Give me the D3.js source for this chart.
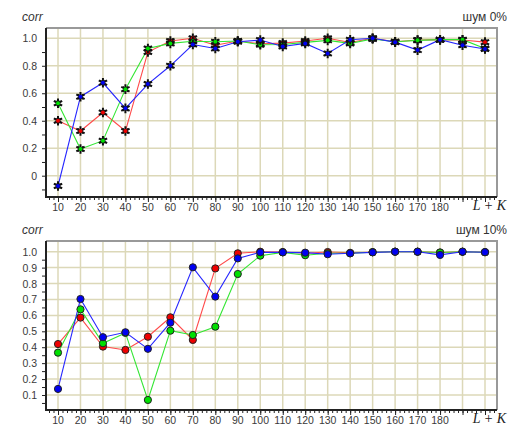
<!DOCTYPE html>
<html><head><meta charset="utf-8">
<script src="https://cdn.jsdelivr.net/npm/d3@7"></script>
<style>body{margin:0;background:#fff}svg{display:block}</style>
</head><body>
<script>
const xValues = [10,20,30,40,50,60,70,80,90,100,110,120,130,140,150,160,170,180,190,200];
const xTickLabels = [10,20,30,40,50,60,70,80,90,100,110,120,130,140,150,160,170,180];

const red0   = [0.40,0.325,0.46,0.325,0.90,0.98,1.00,0.95,0.98,0.96,0.965,0.98,1.00,0.97,1.00,0.975,0.988,0.99,0.988,0.972];
const green0 = [0.527,0.194,0.255,0.63,0.926,0.963,0.978,0.975,0.98,0.953,0.955,0.97,0.985,0.963,0.995,0.975,0.985,0.99,0.99,0.926];
const blue0  = [-0.075,0.575,0.676,0.49,0.667,0.80,0.955,0.926,0.975,0.987,0.94,0.963,0.89,0.99,1.00,0.972,0.914,0.99,0.95,0.922];

const red10   = [0.42,0.586,0.404,0.383,0.466,0.588,0.446,0.895,0.99,1.0,0.998,0.99,0.998,0.993,0.997,1.0,1.0,0.995,1.0,0.997];
const green10 = [0.366,0.638,0.425,0.49,0.069,0.504,0.477,0.529,0.86,0.975,0.996,0.978,0.99,0.99,0.997,1.0,1.0,0.995,1.0,0.997];
const blue10  = [0.138,0.703,0.463,0.494,0.39,0.554,0.902,0.718,0.958,0.996,0.996,0.994,0.984,0.99,0.996,1.0,1.0,0.98,1.0,0.997];

const yTicks0 = [0,0.2,0.4,0.6,0.8,1.0];
const yTickLabels0 = ["0","0.2","0.4","0.6","0.8","1.0"];
const yTicks10 = [0.1,0.2,0.3,0.4,0.5,0.6,0.7,0.8,0.9,1.0];
const yTickLabels10 = ["0.1","0.2","0.3","0.4","0.5","0.6","0.7","0.8","0.9","1.0"];

const titles = ["шум 0%","шум 10%"];

const W = 508, H = 427;
const svg = d3.select("body").append("svg").attr("width",W).attr("height",H);

const lineCol = {red:"#ff4a4a", green:"#33e633", blue:"#2626ff"};
const fillCol = {red:"#ee0000", green:"#00e000", blue:"#0000f0"};

function panel(cfg){
  const g = svg.append("g");
  const L = 46, R = 497, T = cfg.top, B = cfg.bottom;
  const x = d3.scaleLinear().domain([10,200]).range([58,485]);
  const y = d3.scaleLinear().domain(cfg.yDom).range(cfg.yRange);

  g.append("rect").attr("x",L).attr("y",T).attr("width",R-L).attr("height",B-T).attr("fill","#fff");
  g.selectAll(".vg").data(xValues).join("line")
    .attr("x1",d=>x(d)).attr("x2",d=>x(d)).attr("y1",T).attr("y2",B)
    .attr("stroke","#dcd8b8").attr("stroke-width",1.5);
  g.selectAll(".hg").data(cfg.yTicks).join("line")
    .attr("x1",L).attr("x2",R).attr("y1",d=>y(d)).attr("y2",d=>y(d))
    .attr("stroke","#dcd8b8").attr("stroke-width",1.5);
  g.append("path").attr("d",`M${L},${T}H${R}V${B}`).attr("fill","none").attr("stroke","#999").attr("stroke-width",2);

  const xAxis = d3.axisBottom(x).tickValues(d3.range(6,206,2)).tickSize(3).tickFormat("");
  const xa = g.append("g").attr("transform",`translate(0,${B})`).call(xAxis);
  xa.select(".domain").remove();
  xa.selectAll("line").attr("stroke","#222");
  g.append("g").attr("transform",`translate(0,${B})`).call(d3.axisBottom(x).tickValues(xValues).tickSize(5).tickFormat(""))
    .call(a=>a.select(".domain").remove()).selectAll("line").attr("stroke","#222");
  g.selectAll(".xl").data(xTickLabels).join("text")
    .attr("x",d=>x(d)).attr("y",B+13.5).attr("text-anchor","middle")
    .attr("font-family","Liberation Sans, Arial, sans-serif").attr("font-size",10.5).attr("fill","#3a3a3a").text(d=>d);

  const yMinor = d3.range(cfg.minorStart, cfg.yDom[1], cfg.minorStep);
  g.append("g").attr("transform",`translate(${L},0)`).call(d3.axisLeft(y).tickValues(yMinor).tickSize(4).tickFormat(""))
    .call(a=>a.select(".domain").remove()).selectAll("line").attr("stroke","#222");
  g.selectAll(".yl").data(cfg.yTicks).join("text")
    .attr("x",37).attr("y",d=>y(d)+4).attr("text-anchor","end")
    .attr("font-family","Liberation Sans, Arial, sans-serif").attr("font-size",10.5).attr("fill","#3a3a3a")
    .text((d,i)=>cfg.yLabels[i]);

  g.append("path").attr("d",`M${L},${T}V${B}H${R}`).attr("fill","none").attr("stroke","#222").attr("stroke-width",2);

  g.append("text").attr("x",22).attr("y",T-7.5).attr("font-family","Liberation Sans, Arial, sans-serif")
    .attr("font-style","italic").attr("font-size",12).attr("fill","#333").text("corr");
  g.append("text").attr("x",507).attr("y",T-7.5).attr("text-anchor","end").attr("font-family","Liberation Sans, Arial, sans-serif")
    .attr("font-size",12).attr("fill","#333").text(cfg.title);
  g.append("text").attr("x",506).attr("y",B+13).attr("text-anchor","end").attr("font-family","Liberation Serif, Times New Roman, serif")
    .attr("font-style","italic").attr("font-size",14).attr("fill","#222").text("L + K");

  const line = d3.line().x((d,i)=>x(xValues[i])).y(d=>y(d));
  cfg.series.forEach(s=>{
    g.append("path").datum(s.values).attr("d",line).attr("fill","none")
      .attr("stroke",lineCol[s.color]).attr("stroke-width",1.1);
  });
  cfg.series.forEach(s=>{
    const pts = g.selectAll(null).data(s.values).join("g")
      .attr("transform",(d,i)=>`translate(${x(xValues[i])},${y(d)})`);
    if(cfg.marker==="star"){
      pts.append("path").attr("d",d3.symbol(d3.symbolAsterisk,64)).attr("stroke","#111").attr("stroke-width",2).attr("fill","none");
      pts.append("path").attr("d",d3.symbol(d3.symbolTimes,18)).attr("stroke","#111").attr("stroke-width",1.5).attr("fill","none");
      pts.append("circle").attr("r",2).attr("fill",fillCol[s.color]);
    } else {
      pts.append("circle").attr("r",3.6).attr("fill",fillCol[s.color]).attr("stroke","#222").attr("stroke-width",1);
    }
  });
}

panel({top:28, bottom:197, yDom:[0,1], yRange:[175.7,38.3], yTicks:yTicks0, yLabels:yTickLabels0,
  minorStart:-0.1, minorStep:0.1, title:titles[0], marker:"star",
  series:[{color:"red",values:red0},{color:"green",values:green0},{color:"blue",values:blue0}]});
panel({top:241, bottom:410, yDom:[0.1,1.0], yRange:[395,251.7], yTicks:yTicks10, yLabels:yTickLabels10,
  minorStart:0.05, minorStep:0.05, title:titles[1], marker:"circle",
  series:[{color:"red",values:red10},{color:"green",values:green10},{color:"blue",values:blue10}]});
</script>
</body></html>
